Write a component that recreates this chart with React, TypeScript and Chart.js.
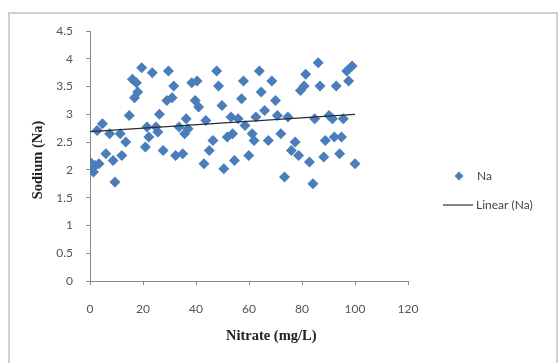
import React, { useEffect, useRef } from "react";
import { Chart, registerables } from "chart.js";

Chart.register(...registerables);

const naX = [0, 1.3, 2, 3.4, 2.7, 4.7, 6, 7.4, 8.7, 9.4, 11.4, 12, 13.5, 14.8, 16, 17.5, 16.8, 18, 19.5, 20.9, 21.5, 22.2, 23.5, 24.9, 25.6, 26.2, 27.6, 29, 29.6, 31, 31.6, 32.3, 33.6, 35, 35.7, 36.3, 37, 38.4, 39.7, 40.4, 41, 43, 43.7, 45, 46.4, 47.8, 48.5, 49.8, 50.5, 51.8, 53.2, 53.8, 54.5, 55.9, 57.2, 57.9, 58.5, 59.9, 61.2, 61.9, 62.6, 63.9, 64.6, 65.9, 67.3, 68.6, 70, 70.7, 72, 73.4, 74.7, 76, 77.4, 78.7, 79.4, 80.8, 81.4, 82.8, 84.1, 84.8, 86.1, 86.8, 88.2, 88.8, 90.2, 91.5, 92.2, 92.9, 94.2, 94.9, 95.6, 96.9, 97.6, 98.9, 100, 0.5];
const naY = [2.14, 1.96, 2.08, 2.11, 2.71, 2.83, 2.29, 2.65, 2.17, 1.78, 2.65, 2.26, 2.5, 2.98, 3.63, 3.57, 3.3, 3.4, 3.84, 2.41, 2.77, 2.59, 3.75, 2.77, 2.68, 3.0, 2.35, 3.25, 3.78, 3.3, 3.51, 2.26, 2.77, 2.29, 2.65, 2.92, 2.74, 3.57, 3.25, 3.6, 3.13, 2.11, 2.89, 2.35, 2.53, 3.78, 3.51, 3.16, 2.02, 2.59, 2.95, 2.65, 2.17, 2.92, 3.28, 3.6, 2.8, 2.26, 2.65, 2.53, 2.95, 3.78, 3.4, 3.07, 2.53, 3.6, 3.25, 2.98, 2.65, 1.87, 2.95, 2.35, 2.5, 2.26, 3.43, 3.51, 3.72, 2.14, 1.75, 2.92, 3.93, 3.51, 2.23, 2.53, 2.98, 2.92, 2.59, 3.51, 2.29, 2.59, 2.92, 3.78, 3.6, 3.87, 2.11, 2.02];

const trendX = [0, 100];
const trendY = [2.69, 3.0];

const xTicks = [0, 20, 40, 60, 80, 100, 120];
const yTicks = [0, 0.5, 1, 1.5, 2, 2.5, 3, 3.5, 4, 4.5];

const seriesName = "Na";
const trendName = "Linear (Na)";
const xTitle = "Nitrate (mg/L)";
const yTitle = "Sodium (Na)";

const BLUE = "#4A7EBB";
const TICK_FONT = "Lato";

const decorPlugin = {
  id: "decor",
  beforeDraw(chart: any) {
    const ctx = chart.ctx;
    ctx.save();
    ctx.fillStyle = "#ffffff";
    ctx.fillRect(0, 0, chart.width, chart.height);
    ctx.strokeStyle = "#cfcfcf";
    ctx.lineWidth = 2;
    ctx.strokeRect(9, 13, chart.width - 10, chart.height + 20);
    ctx.restore();
  },
  afterDraw(chart: any) {
    const ctx = chart.ctx;
    const area = chart.chartArea;
    ctx.save();
    ctx.fillStyle = "#222";
    ctx.font = "bold 14.5px 'Liberation Serif', 'Times New Roman', serif";
    ctx.textAlign = "center";
    ctx.textBaseline = "middle";
    ctx.fillText(xTitle, area.left + (area.right - area.left) * 0.57, 336);
    ctx.translate(38, (area.top + area.bottom) / 2 + 4);
    ctx.rotate(-Math.PI / 2);
    ctx.fillText(yTitle, 0, 0);
    ctx.restore();

    ctx.save();
    const lx = area.right + 35;
    const y1 = 176;
    const y2 = 205;
    ctx.fillStyle = BLUE;
    ctx.beginPath();
    ctx.moveTo(lx + 16, y1 - 4.5);
    ctx.lineTo(lx + 20.5, y1);
    ctx.lineTo(lx + 16, y1 + 4.5);
    ctx.lineTo(lx + 11.5, y1);
    ctx.closePath();
    ctx.fill();
    ctx.strokeStyle = "#333";
    ctx.lineWidth = 1.2;
    ctx.beginPath();
    ctx.moveTo(lx, y2);
    ctx.lineTo(lx + 30, y2);
    ctx.stroke();
    ctx.fillStyle = "#444";
    ctx.font = `12px ${TICK_FONT}`;
    ctx.textAlign = "left";
    ctx.textBaseline = "middle";
    ctx.fillText(seriesName, lx + 34, y1);
    ctx.fillText(trendName, lx + 33, y2);
    ctx.restore();
  },
};

export default function App() {
  const ref = useRef<HTMLCanvasElement | null>(null);
  useEffect(() => {
    document.body.style.margin = "0";
    if (!ref.current) return;
    const chart = new Chart(ref.current, {
      type: "scatter",
      data: {
        datasets: [
          {
            label: seriesName,
            data: naX.map((x, i) => ({ x, y: naY[i] })),
            pointStyle: "rectRot",
            pointRadius: 5.5,
            pointHoverRadius: 5.5,
            backgroundColor: BLUE,
            borderColor: BLUE,
            borderWidth: 0,
            order: 2,
          },
          {
            type: "line",
            label: trendName,
            data: trendX.map((x, i) => ({ x, y: trendY[i] })),
            borderColor: "#2b2b2b",
            borderWidth: 1.3,
            pointRadius: 0,
            showLine: true,
            fill: false,
            order: 1,
          } as any,
        ],
      },
      options: {
        responsive: false,
        animation: false,
        layout: { padding: { top: 31, right: 150, left: 0, bottom: 0 } },
        plugins: {
          legend: { display: false },
          tooltip: { enabled: false },
        },
        scales: {
          x: {
            type: "linear",
            min: 0,
            max: 120,
            afterBuildTicks: (s: any) => {
              s.ticks = xTicks.map((v) => ({ value: v }));
            },
            afterFit: (s: any) => {
              s.height = 363 - 281;
            },
            ticks: {
              color: "#555",
              font: { family: TICK_FONT, size: 12 },
              padding: 17,
            },
            grid: {
              display: true,
              drawOnChartArea: false,
              drawTicks: true,
              tickLength: 4,
              color: "#8a8a8a",
            },
            border: { display: true, color: "#8a8a8a", width: 1 },
          },
          y: {
            type: "linear",
            min: 0,
            max: 4.5,
            afterBuildTicks: (s: any) => {
              s.ticks = yTicks.map((v) => ({ value: v }));
            },
            afterFit: (s: any) => {
              s.width = 90;
            },
            ticks: {
              color: "#555",
              font: { family: TICK_FONT, size: 12 },
              padding: 13,
              callback: (v: any) => String(v),
            },
            grid: {
              display: true,
              drawOnChartArea: false,
              drawTicks: true,
              tickLength: 4,
              color: "#8a8a8a",
            },
            border: { display: true, color: "#8a8a8a", width: 1 },
          },
        },
      },
      plugins: [decorPlugin],
    });
    return () => chart.destroy();
  }, []);
  return (
    <div style={{ width: 558, height: 363, position: "relative" }}>
      <canvas ref={ref} width={558} height={363} style={{ display: "block" }} />
    </div>
  );
}
